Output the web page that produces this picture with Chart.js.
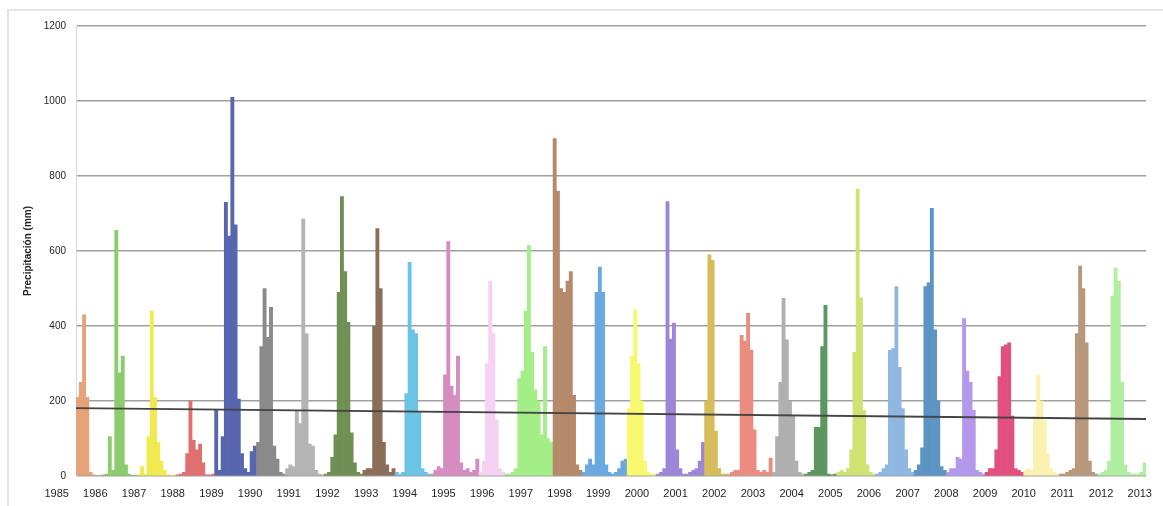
<!DOCTYPE html>
<html>
<head>
<meta charset="utf-8">
<script src="https://cdn.jsdelivr.net/npm/chart.js@4.4.0/dist/chart.umd.min.js"></script>
<style>
    html, body { margin: 0; padding: 0; background: #fff; }
    #frame { position: absolute; left: 7px; top: 9px; width: 1160px; height: 500px;
             border-left: 2px solid #e4e4e4; border-top: 2px solid #e4e4e4; }
    #wrap { position: absolute; left: 0; top: 0; width: 1163px; height: 506px; }
</style>
</head>
<body>
<div id="frame"></div>
<div id="wrap"><canvas id="chart"></canvas></div>
<script>
// Year labels on the x axis
const yearLabels = ['1985', '1986', '1987', '1988', '1989', '1990', '1991', '1992', '1993', '1994',
    '1995', '1996', '1997', '1998', '1999', '2000', '2001', '2002', '2003', '2004', '2005', '2006',
    '2007', '2008', '2009', '2010', '2011', '2012', '2013'];

// Monthly precipitation (mm), one row per year, Jan 1986 onwards
const monthlyPrecip = [
    210, 250, 430, 210, 10, 3, 2, 2, 3, 5, 105, 15,
    655, 275, 320, 30, 5, 2, 2, 3, 25, 5, 105, 440,
    210, 90, 40, 15, 3, 2, 2, 3, 5, 10, 60, 200,
    95, 70, 85, 35, 3, 3, 5, 175, 15, 105, 730, 640,
    1010, 670, 205, 60, 20, 10, 65, 80, 90, 345, 500, 370,
    450, 80, 45, 10, 5, 20, 30, 25, 175, 140, 685, 380,
    85, 80, 15, 5, 3, 5, 10, 50, 110, 490, 745, 545,
    410, 115, 35, 10, 5, 15, 20, 20, 400, 660, 500, 90,
    30, 10, 20, 10, 5, 10, 220, 570, 390, 380, 170, 20,
    10, 5, 5, 15, 25, 20, 270, 625, 240, 215, 320, 35,
    15, 20, 10, 15, 45, 10, 40, 300, 520, 380, 150, 20,
    10, 5, 5, 10, 20, 260, 280, 440, 615, 330, 230, 200,
    110, 345, 100, 90, 900, 760, 500, 490, 520, 545, 215, 30,
    15, 10, 30, 45, 30, 490, 557, 490, 30, 10, 5, 10,
    20, 40, 45, 180, 320, 443, 300, 200, 40, 10, 5, 5,
    5, 10, 20, 732, 365, 408, 70, 20, 5, 5, 10, 15,
    20, 40, 90, 200, 590, 575, 120, 20, 5, 5, 5, 10,
    15, 15, 375, 360, 434, 336, 123, 15, 10, 15, 10, 48,
    10, 105, 250, 474, 363, 200, 160, 40, 10, 5, 5, 10,
    15, 130, 130, 345, 455, 5, 3, 5, 10, 15, 10, 20,
    70, 330, 765, 475, 175, 30, 10, 5, 5, 10, 20, 30,
    335, 340, 505, 290, 180, 70, 20, 10, 15, 30, 75, 505,
    515, 714, 390, 200, 25, 15, 10, 20, 20, 50, 45, 420,
    280, 250, 175, 15, 10, 5, 10, 20, 20, 70, 265, 345,
    350, 355, 160, 20, 15, 10, 15, 20, 15, 158, 270, 200,
    150, 60, 20, 10, 5, 5, 5, 10, 15, 20, 380, 560,
    500, 355, 40, 10, 5, 5, 10, 15, 40, 480, 555, 520,
    250, 30, 10, 5, 5, 5, 10, 35
];

// Month index where each coloured rainy season begins
const seasonStart = [0, 8, 19, 31, 43, 56, 65, 77, 89, 99, 110, 125, 133, 148, 157,
    171, 180, 195, 203, 216, 226, 236, 248, 260, 270, 282, 294, 305, 317];

const seasonColors = ['#e8a27a', '#8ccc6e', '#f0ea50', '#e07070', '#5866b0', '#8a8a8a', '#b4b4b4',
    '#6f8f55', '#8c6e58', '#6cc4e4', '#d58cc0', '#f6d2f2', '#a4ee88', '#b48a6a', '#6aa8e2',
    '#f8f870', '#9d86d8', '#d6bc5a', '#ec8c80', '#b0b0b0', '#5c9660', '#cfe272', '#8eb8e2',
    '#5c94c4', '#b498ec', '#e25080', '#fbf2b0', '#b8987a', '#b0eea0'];

// Linear trend, value at the first and at the last month
const trendEnds = [181, 152];

function seasonOf(i) {
    let g = 0;
    for (let k = 0; k < seasonStart.length; k++) {
        if (seasonStart[k] <= i) g = k;
    }
    return g;
}

const nMonths = monthlyPrecip.length;
const barData = monthlyPrecip.map((v, i) => ({ x: i + 0.5, y: v }));
const barColors = monthlyPrecip.map((v, i) => seasonColors[seasonOf(i)]);
const trendData = [{ x: 0, y: trendEnds[0] }, { x: nMonths, y: trendEnds[1] }];

const ctx = document.getElementById('chart').getContext('2d');
new Chart(ctx, {
    type: 'bar',
    data: {
        datasets: [{
            type: 'line',
            data: trendData,
            borderColor: '#444',
            borderWidth: 1.8,
            pointRadius: 0,
            order: 0
        }, {
            data: barData,
            backgroundColor: barColors,
            borderWidth: 0,
            barPercentage: 1,
            categoryPercentage: 1,
            order: 1
        }]
    },
    options: {
        responsive: true,
        maintainAspectRatio: false,
        animation: false,
        layout: { padding: { left: 0, top: 26, right: 3, bottom: 0 } },
        plugins: { legend: { display: false }, tooltip: { enabled: false } },
        scales: {
            x: {
                type: 'linear',
                min: 0,
                max: nMonths,
                offset: false,
                grid: { display: false, drawTicks: false },
                border: { display: false },
                afterBuildTicks: (axis) => {
                    axis.ticks = yearLabels.map((_, k) => ({ value: 12 * k - 6 }));
                },
                ticks: {
                    autoSkip: false,
                    maxRotation: 0,
                    padding: 11,
                    color: '#1e1e1e',
                    font: { family: 'Liberation Sans', size: 11 },
                    callback: (v, i) => yearLabels[i]
                },
                afterFit: (axis) => { axis.height = 30; }
            },
            y: {
                min: 0,
                max: 1200,
                ticks: {
                    stepSize: 200,
                    padding: 10,
                    color: '#1e1e1e',
                    font: { family: 'Liberation Sans', size: 10 },
                    callback: (v) => String(v)
                },
                grid: { color: '#a0a0a0', lineWidth: 1.5, drawTicks: false },
                border: { display: true, color: '#d9d9d9', width: 1 },
                title: {
                    display: true,
                    text: 'Precipitación (mm)',
                    color: '#222',
                    font: { family: 'Liberation Sans', size: 10, weight: 'bold' },
                    padding: { top: 22, bottom: 0 }
                },
                afterFit: (axis) => { axis.width = 76; }
            }
        }
    }
});
</script>
</body>
</html>
